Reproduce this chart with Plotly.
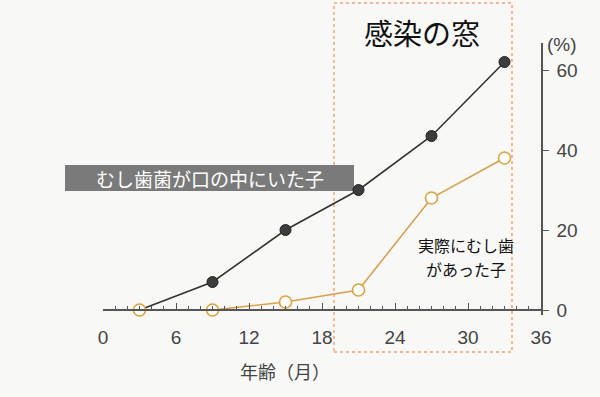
import plotly.graph_objects as go

ages = [3, 9, 15, 21, 27, 33]
bacteria_pct = [0, 7, 20, 30, 43.5, 62]
caries_pct = [0, 0, 2, 5, 28, 38]
x_ticks = [0, 6, 12, 18, 24, 30, 36]
y_ticks = [0, 20, 40, 60]

FONT = "Noto Sans CJK JP"
BG = "#f8f8f6"
AXIS = "#555555"

fig = go.Figure()
fig.add_trace(go.Scatter(
    x=ages, y=bacteria_pct, mode="lines+markers",
    line=dict(color="#333333", width=1.6),
    marker=dict(size=11, color="#3c3c3c", line=dict(color="#222222", width=1)),
    cliponaxis=False, showlegend=False))
fig.add_trace(go.Scatter(
    x=ages, y=caries_pct, mode="lines+markers",
    line=dict(color="#d9a04c", width=1.6),
    marker=dict(size=12, color="#ffffff", line=dict(color="#d8a43e", width=1.6)),
    cliponaxis=False, showlegend=False))

fig.update_layout(
    width=600, height=397,
    margin=dict(l=103, r=59, t=43, b=82),
    paper_bgcolor=BG, plot_bgcolor=BG,
    font=dict(family=FONT, color="#444444"),
    xaxis=dict(range=[0, 36], tickvals=x_ticks, showgrid=False, zeroline=False,
               showline=True, linecolor=AXIS, linewidth=1.5,
               anchor="free", position=1.25 / 68,
               ticks="inside", ticklen=6, tickcolor=AXIS, tickwidth=1.2,
               minor=dict(dtick=1, ticks="inside", ticklen=3, tickcolor=AXIS, tickwidth=1),
               tickfont=dict(size=19, color="#444444", family="Liberation Sans"),
               ticklabelstandoff=10),
    yaxis=dict(range=[-1.25, 66.75], tickvals=y_ticks, side="right", showgrid=False,
               zeroline=False, showline=True, linecolor=AXIS, linewidth=1.5,
               ticks="outside", ticklen=6, tickcolor=AXIS, tickwidth=1.2,
               tickfont=dict(size=19, color="#444444", family="Liberation Sans"),
               ticklabelstandoff=4),
)


def px(x, y):
    return dict(xref="paper", yref="paper", x=(x - 103) / 438, y=(315 - y) / 272,
                xanchor="center", yanchor="middle", showarrow=False)


# dotted "window" box
fig.add_shape(type="rect", xref="paper", yref="paper",
              x0=(334 - 103) / 438, x1=(512 - 103) / 438,
              y0=(315 - 352) / 272, y1=(315 - 3) / 272,
              line=dict(color="#f4a070", width=1.5, dash="dot"), layer="below")

# gray label box
fig.add_shape(type="rect", xref="paper", yref="paper",
              x0=(65 - 103) / 438, x1=(354 - 103) / 438,
              y0=(315 - 191) / 272, y1=(315 - 165) / 272,
              fillcolor="#7a7a7a", line=dict(width=0), layer="below")

fig.add_annotation(text="むし歯菌が口の中にいた子", **px(210, 178),
                   font=dict(size=19, color="#ffffff", family=FONT))
fig.add_annotation(text="感染の窓", **px(422, 32),
                   font=dict(size=29, color="#111111", family=FONT))
fig.add_annotation(text="実際にむし歯", **px(466, 245),
                   font=dict(size=16, color="#111111", family=FONT))
fig.add_annotation(text="があった子", **px(466, 269),
                   font=dict(size=16, color="#111111", family=FONT))
fig.add_annotation(text="(%)", **px(562, 45),
                   font=dict(size=19, color="#444444", family="Liberation Sans"))
fig.add_annotation(text="年齢（月）", **px(285, 371),
                   font=dict(size=18, color="#444444", family=FONT))

fig.write_html("out.html", config={"displayModeBar": False},
               post_script="document.body.style.margin='0';")
